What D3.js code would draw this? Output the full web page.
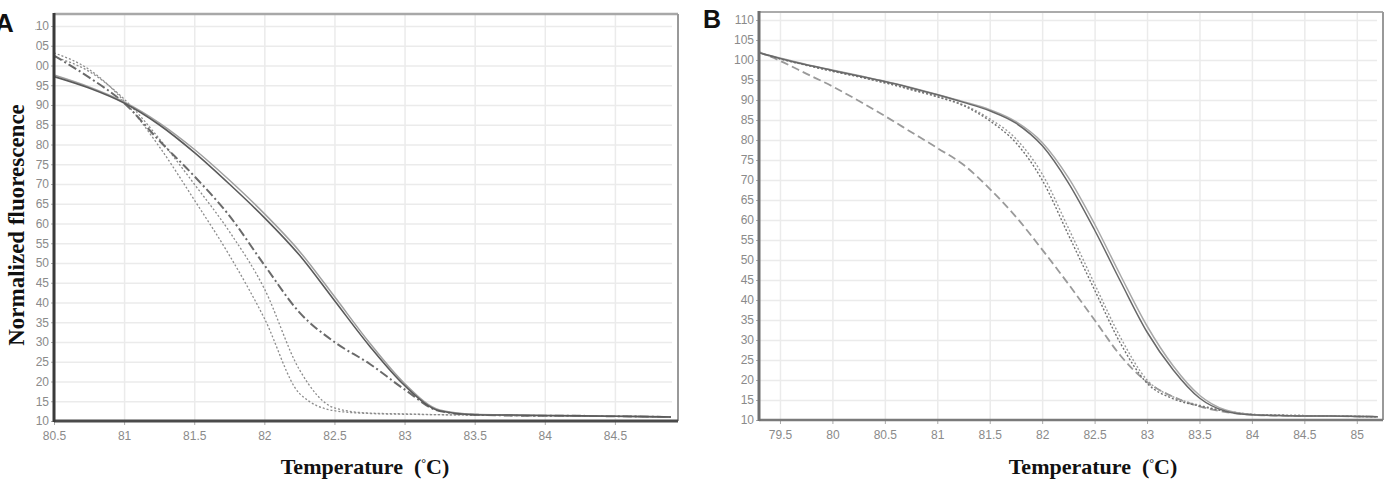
<!DOCTYPE html>
<html>
<head>
<meta charset="utf-8">
<script src="https://cdnjs.cloudflare.com/ajax/libs/d3/7.8.5/d3.min.js"></script>
<style>
  body { margin: 0; background: #fff; }
  svg { display: block; }
  .tick text { font-family: "Liberation Sans", Arial, sans-serif; font-size: 12px; fill: #8a8a8a; }
  .grid line { stroke: #ebebeb; stroke-width: 1.5; }
  .grid path { display: none; }
  .ax path { display: none; }
  .ax line { stroke: #aaa; }
  .title { font-family: "Liberation Serif", "Times New Roman", serif; font-weight: bold; fill: #111; }
  .panel { font-family: "Liberation Sans", Arial, sans-serif; font-weight: bold; fill: #111; }
</style>
</head>
<body>
<script>
// ---- data ----
const tempA = [80.5, 80.75, 81, 81.25, 81.5, 81.75, 82, 82.25, 82.5, 82.75, 83, 83.25, 83.5, 83.75, 84, 84.25, 84.5, 84.75, 84.9];
const solidA1 = [97.2, 94.3, 90.5, 85, 78, 70, 61.5, 52, 40.5, 29, 19, 12.6, 11.6, 11.5, 11.4, 11.3, 11.2, 11.1, 11.0];
const solidA2 = [97.6, 94.6, 90.8, 85.5, 78.8, 71, 62.5, 53, 41.5, 29.8, 19.5, 12.8, 11.7, 11.5, 11.4, 11.3, 11.2, 11.1, 11.0];
const dashA = [102.5, 97, 90.5, 81, 72, 62, 49.5, 37.5, 30, 24.5, 18, 12.5, 11.6, 11.4, 11.3, 11.3, 11.2, 11.1, 11.0];
const dotA1 = [103.2, 99, 91, 79.5, 66, 52, 36, 17, 12.6, 11.9, 11.7, 11.6, 11.5, 11.4, 11.3, 11.3, 11.2, 11.1, 11.0];
const dotA2 = [102.2, 98.5, 91.5, 81.5, 70, 58, 43.5, 23, 13.3, 12, 11.8, 11.6, 11.5, 11.4, 11.3, 11.3, 11.2, 11.1, 11.0];

const tempB = [79.3, 79.5, 79.75, 80, 80.25, 80.5, 80.75, 81, 81.25, 81.5, 81.75, 82, 82.25, 82.5, 82.75, 83, 83.25, 83.5, 83.75, 84, 84.25, 84.5, 84.75, 85, 85.2];
const solidB1 = [101.8, 100.4, 98.8, 97.4, 96, 94.6, 93, 91.3, 89.4, 87.3, 84.2, 78.6, 69.3, 57.5, 44.5, 32, 22.5, 15.5, 12.2, 11.3, 11.1, 11.0, 11.0, 10.9, 10.8];
const solidB2 = [101.8, 100.5, 98.9, 97.5, 96.1, 94.7, 93.1, 91.4, 89.6, 87.6, 84.6, 79.4, 70.6, 59, 46, 33.5, 23.5, 16.2, 12.5, 11.4, 11.1, 11.0, 11.0, 10.9, 10.8];
const dotB1 = [101.8, 100.3, 98.7, 97.2, 95.8, 94.3, 92.6, 90.8, 88.6, 84.8, 79.3, 70, 56.3, 42.5, 29, 19.2, 15.3, 13.5, 12.2, 11.4, 11.2, 11.1, 11.0, 10.9, 10.8];
const dotB2 = [101.8, 100.3, 98.7, 97.2, 95.8, 94.3, 92.6, 90.9, 88.8, 85.3, 80.3, 71.5, 58, 44, 30.5, 20, 15.8, 13.7, 12.3, 11.4, 11.2, 11.1, 11.0, 10.9, 10.8];
const dashB = [102, 99.8, 96.6, 93.4, 89.8, 86, 82, 78, 73.8, 67.8, 60.8, 52.6, 44, 35, 26, 19.5, 15.8, 13.4, 12, 11.3, 11.1, 11.0, 11.0, 10.9, 10.8];

const yTicks = d3.range(10, 111, 5);
const xTicksA = [80.5, 81, 81.5, 82, 82.5, 83, 83.5, 84, 84.5];
const xTicksB = [79.5, 80, 80.5, 81, 81.5, 82, 82.5, 83, 83.5, 84, 84.5, 85];

const W = 1391, H = 479;
const svg = d3.select("body").append("svg")
  .attr("width", W)
  .attr("height", H);

function panel(cfg) {
  const x = d3.scaleLinear().domain(cfg.xDomain).range([cfg.left, cfg.right]);
  const y = d3.scaleLinear().domain(cfg.yDomain).range([cfg.bottom, cfg.top]);
  const g = svg.append("g");

  // grid
  g.append("g").attr("class", "grid")
    .attr("transform", "translate(0," + cfg.bottom + ")")
    .call(d3.axisBottom(x).tickValues(cfg.xTicks).tickSize(-(cfg.bottom - cfg.top)).tickFormat(""));
  g.append("g").attr("class", "grid")
    .attr("transform", "translate(" + cfg.left + ",0)")
    .call(d3.axisLeft(y).tickValues(yTicks.filter(d => d > 10)).tickSize(-(cfg.gridRight - cfg.left)).tickFormat(""));

  // axes (labels + tick marks)
  g.append("g").attr("class", "ax")
    .attr("transform", "translate(0," + cfg.bottom + ")")
    .call(d3.axisBottom(x).tickValues(cfg.xTicks).tickSize(4).tickPadding(6).tickFormat(d3.format("")));

  // y labels are cut at the left, as in the original figure
  const clipId = "yclip" + cfg.id;
  svg.append("clipPath").attr("id", clipId)
    .append("rect").attr("x", cfg.labelClip).attr("y", 0).attr("width", cfg.left - cfg.labelClip + 2).attr("height", H);
  g.append("g")
    .attr("clip-path", "url(#" + clipId + ")")
    .append("g").attr("class", "ax")
    .attr("transform", "translate(" + cfg.left + ",0)")
    .call(d3.axisLeft(y).tickValues(yTicks).tickSize(3).tickPadding(2));

  // curves
  const plotClip = "pclip" + cfg.id;
  svg.append("clipPath").attr("id", plotClip)
    .append("rect").attr("x", cfg.left).attr("y", cfg.top).attr("width", cfg.right - cfg.left).attr("height", cfg.bottom - cfg.top);
  const line = d3.line()
    .x((d, i) => x(cfg.temps[i]))
    .y(d => y(d))
    .curve(d3.curveMonotoneX);
  const lg = g.append("g").attr("clip-path", "url(#" + plotClip + ")");
  cfg.series.forEach(s => {
    lg.append("path")
      .attr("d", line(s.values))
      .attr("fill", "none")
      .attr("stroke", s.color)
      .attr("stroke-width", s.width)
      .attr("stroke-dasharray", s.dash || null);
  });

  // frame
  const f = cfg.frame;
  g.append("line").attr("x1", cfg.left).attr("x2", cfg.right).attr("y1", cfg.top).attr("y2", cfg.top)
    .attr("stroke", f.top[0]).attr("stroke-width", f.top[1]);
  g.append("line").attr("x1", cfg.right).attr("x2", cfg.right).attr("y1", cfg.top).attr("y2", cfg.bottom)
    .attr("stroke", f.right[0]).attr("stroke-width", f.right[1]);
  g.append("line").attr("x1", cfg.left).attr("x2", cfg.right).attr("y1", cfg.bottom).attr("y2", cfg.bottom)
    .attr("stroke", f.bottom[0]).attr("stroke-width", f.bottom[1]);
  g.append("line").attr("x1", cfg.left).attr("x2", cfg.left).attr("y1", cfg.top - 1).attr("y2", cfg.bottom + 1)
    .attr("stroke", f.left[0]).attr("stroke-width", f.left[1]);

  // x title
  const t = g.append("text").attr("class", "title")
    .attr("x", cfg.titleX).attr("y", 474)
    .attr("text-anchor", "middle")
    .style("font-size", "22px");
  t.append("tspan").text("Temperature\u00a0\u00a0(");
  t.append("tspan").text("\u00b0").attr("dy", -7).style("font-size", "12px");
  t.append("tspan").text("C)").attr("dy", 7);
}

panel({
  id: "A", left: 54, right: 678, gridRight: 672, top: 14, bottom: 421,
  xDomain: [80.5, 84.95], yDomain: [10, 113.04], xTicks: xTicksA, labelClip: 35.5,
  temps: tempA, titleX: 365,
  frame: { top: ["#a8a8a8", 2.5], right: ["#999", 2], bottom: ["#4a4a4a", 3], left: ["#3a3a3a", 3] },
  series: [
    { values: dotA2, color: "#8c8c8c", width: 1.3, dash: "2,2" },
    { values: dotA1, color: "#8c8c8c", width: 1.3, dash: "2,2" },
    { values: dashA, color: "#6a6a6a", width: 2, dash: "9,3,2,3" },
    { values: solidA2, color: "#a0a0a0", width: 1.5 },
    { values: solidA1, color: "#5a5a5a", width: 1.6 }
  ]
});

panel({
  id: "B", left: 759, right: 1383, gridRight: 1377, top: 12, bottom: 420,
  xDomain: [79.3, 85.25], yDomain: [10, 112], xTicks: xTicksB, labelClip: 720,
  temps: tempB, titleX: 1093,
  frame: { top: ["#ababab", 2], right: ["#999", 2], bottom: ["#7a7a7a", 2.5], left: ["#6f6f6f", 3] },
  series: [
    { values: dashB, color: "#9a9a9a", width: 1.8, dash: "8,4" },
    { values: dotB2, color: "#9a9a9a", width: 1.4, dash: "2,2" },
    { values: dotB1, color: "#707070", width: 1.4, dash: "2,2" },
    { values: solidB2, color: "#a8a8a8", width: 1.5 },
    { values: solidB1, color: "#686868", width: 1.5 }
  ]
});

// y title (panel A only)
svg.append("text").attr("class", "title")
  .attr("transform", "translate(24,225) rotate(-90)")
  .attr("text-anchor", "middle")
  .style("font-size", "23px")
  .text("Normalized fluorescence");

// panel letters
svg.append("text").attr("class", "panel").attr("x", -5).attr("y", 32).style("font-size", "26px").text("A");
svg.append("text").attr("class", "panel").attr("x", 703).attr("y", 28).style("font-size", "25px").text("B");
</script>
</body>
</html>
